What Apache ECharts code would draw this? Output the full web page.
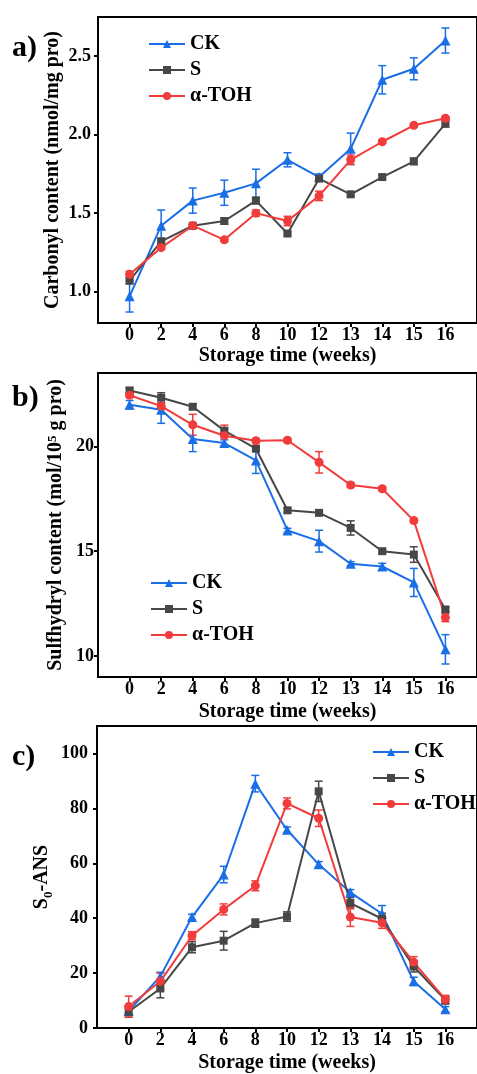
<!DOCTYPE html>
<html>
<head>
<meta charset="utf-8">
<script src="https://cdn.jsdelivr.net/npm/echarts@6/dist/echarts.min.js"></script>
<style>
html,body{margin:0;padding:0;background:#fff;}
#chart{width:477px;height:1074px;}
</style>
</head>
<body>
<div id="chart"></div>
<script>
// ---------- data ----------
const weeks = ['0','2','4','6','8','10','12','13','14','15','16'];
const seriesNames = ['CK','S','α-TOH'];

// a) Carbonyl content
const carbonylCK    = [0.97,1.42,1.58,1.63,1.69,1.84,1.73,1.91,2.35,2.42,2.60];
const carbonylCKErr = [0.10,0.10,0.08,0.08,0.09,0.045,0.02,0.10,0.09,0.07,0.08];
const carbonylS     = [1.07,1.32,1.42,1.45,1.58,1.37,1.72,1.62,1.73,1.83,2.07];
const carbonylSErr  = [0.02,0.02,0.01,0.02,0.02,0.01,0.01,0.01,0.01,0.02,0.02];
const carbonylT     = [1.11,1.28,1.42,1.33,1.50,1.45,1.61,1.84,1.955,2.06,2.105];
const carbonylTErr  = [0.02,0.01,0.01,0.01,0.02,0.03,0.03,0.03,0.01,0.01,0.01];
const carbonylTicks = [1.0,1.5,2.0,2.5];

// b) Sulfhydryl content
const sulfCK    = [21.99,21.75,20.35,20.16,19.33,15.99,15.48,14.40,14.27,13.51,10.32];
const sulfCKErr = [0.2,0.65,0.6,0.15,0.62,0.1,0.52,0.1,0.15,0.67,0.7];
const sulfS     = [22.67,22.32,21.89,20.75,19.89,16.95,16.83,16.11,15.00,14.84,12.22];
const sulfSErr  = [0.1,0.24,0.1,0.1,0.1,0.1,0.1,0.34,0.1,0.37,0.1];
const sulfT     = [22.44,21.92,21.03,20.51,20.27,20.29,19.24,18.16,17.98,16.46,11.84];
const sulfTErr  = [0.1,0.15,0.5,0.5,0.1,0.1,0.51,0.1,0.1,0.1,0.2];
const sulfTicks = [10,15,20];

// c) S0-ANS
const ansCK    = [6.2,18.8,40.4,55.9,89.0,72.2,59.6,49.4,41.6,17.0,6.8];
const ansCKErr = [1,1.5,1,3,3,1,1,1,3,1.5,1];
const ansS     = [5.9,14.4,29.4,31.8,38.2,40.6,86.2,45.5,39.8,22.4,10.2];
const ansSErr  = [2,3.4,2,3.4,1.5,1.7,3.7,2,2,2,1.5];
const ansT     = [7.8,17.0,33.6,43.2,51.8,81.8,76.4,40.4,38.3,24.0,10.4];
const ansTErr  = [3.8,3,1.5,2,1.8,2,3,3.4,2,2,1.5];
const ansTicks = [0,20,40,60,80,100];

// ---------- styling ----------
const FONT = "'Liberation Serif','Times New Roman',serif";
const colors = ['#1a6ee6','#474747','#f23c3c'];
const symbols = ['triangle','rect','circle'];
const symbolSizes = [10,8,9];

const panels = [
  {label:'a)', labelPos:[12,33], grid:{left:98,top:17,height:306},
   yMin:0.8, yMax:2.75, yTicks:carbonylTicks, yFmt:v=>v.toFixed(1),
   yName:'Carbonyl content (nmol/mg pro)', yGap:35, yLabelMargin:7,
   xGap:23, legend:{left:148,top:32},
   vals:[carbonylCK,carbonylS,carbonylT], errs:[carbonylCKErr,carbonylSErr,carbonylTErr]},
  {label:'b)', labelPos:[12,383], grid:{left:98,top:373,height:304},
   yMin:9, yMax:23.5, yTicks:sulfTicks, yFmt:v=>String(v),
   yName:'Sulfhydryl content (mol/10{sup|5} g pro)', yGap:32, yLabelMargin:4,
   xGap:25, legend:{left:150,top:571},
   vals:[sulfCK,sulfS,sulfT], errs:[sulfCKErr,sulfSErr,sulfTErr]},
  {label:'c)', labelPos:[12,742], grid:{left:97,top:726,height:306},
   yMin:0, yMax:110, yTicks:ansTicks, yFmt:v=>String(v),
   yName:'S{sub|0}-ANS', yGap:42, yLabelMargin:9,
   xGap:25, legend:{left:372,top:740},
   vals:[ansCK,ansS,ansT], errs:[ansCKErr,ansSErr,ansTErr]}
];

const xIdx = weeks.map((w,i)=>i);
const grid=[], xAxis=[], yAxis=[], series=[], legend=[], graphic=[];

panels.forEach((p,k)=>{
  grid.push({left:p.grid.left, top:p.grid.top, height:p.grid.height, width:479-p.grid.left,
    show:true, borderColor:'#000', borderWidth:2, backgroundColor:'transparent'});
  xAxis.push({type:'value', gridIndex:k, min:-1, max:11,
    name:'Storage time (weeks)', nameLocation:'middle', nameGap:p.xGap, nameMoveOverlap:false,
    nameTextStyle:{fontFamily:FONT,fontWeight:'bold',fontSize:20,color:'#000'},
    axisLine:{show:true,onZero:false,lineStyle:{color:'#000',width:2}},
    axisTick:{show:true,inside:false,length:4,customValues:xIdx,lineStyle:{color:'#000',width:2}},
    axisLabel:{customValues:xIdx,margin:3,formatter:v=>weeks[v],
      fontFamily:FONT,fontWeight:'bold',fontSize:18,color:'#000'},
    splitLine:{show:false}});
  yAxis.push({type:'value', gridIndex:k, min:p.yMin, max:p.yMax,
    name:p.yName, nameLocation:'middle', nameGap:p.yGap, nameRotate:90, nameMoveOverlap:false,
    nameTextStyle:{fontFamily:FONT,fontWeight:'bold',fontSize:20,color:'#000',
      rich:{
        sup:{fontFamily:FONT,fontWeight:'bold',fontSize:13,color:'#000',verticalAlign:'top',lineHeight:20},
        sub:{fontFamily:FONT,fontWeight:'bold',fontSize:13,color:'#000',verticalAlign:'bottom',lineHeight:26}
      }},
    axisLine:{show:true,onZero:false,lineStyle:{color:'#000',width:2}},
    axisTick:{show:true,inside:false,length:4,customValues:p.yTicks,lineStyle:{color:'#000',width:2}},
    axisLabel:{customValues:p.yTicks,margin:p.yLabelMargin,formatter:p.yFmt,
      fontFamily:FONT,fontWeight:'bold',fontSize:18,color:'#000'},
    splitLine:{show:false}});
  legend.push({left:p.legend.left, top:p.legend.top+2, orient:'vertical', padding:0,
    data:seriesNames, itemWidth:36, itemHeight:10, itemGap:6,
    textStyle:{fontFamily:FONT,fontWeight:'bold',fontSize:20,color:'#000',lineHeight:20}});
  graphic.push({type:'text', left:p.labelPos[0], top:p.labelPos[1],
    style:{text:p.label, fontFamily:FONT, fontWeight:'bold', fontSize:30, fill:'#000'}});

  seriesNames.forEach((name,s)=>{
    const vals=p.vals[s], errs=p.errs[s], col=colors[s];
    series.push({type:'custom', name:name+' error', xAxisIndex:k, yAxisIndex:k,
      itemStyle:{color:col}, z:3, silent:true,
      data: vals.map((v,i)=>[i, v-errs[i], v+errs[i]]),
      encode:{x:0,y:[1,2]},
      renderItem:(params,api)=>{
        const x=api.value(0);
        const a=api.coord([x,api.value(1)]), b=api.coord([x,api.value(2)]);
        const w=4, st={stroke:col,lineWidth:1.5};
        return {type:'group',children:[
          {type:'line',shape:{x1:a[0],y1:a[1],x2:b[0],y2:b[1]},style:st},
          {type:'line',shape:{x1:a[0]-w,y1:a[1],x2:a[0]+w,y2:a[1]},style:st},
          {type:'line',shape:{x1:b[0]-w,y1:b[1],x2:b[0]+w,y2:b[1]},style:st}
        ]};
      }});
    series.push({type:'line', name:name, xAxisIndex:k, yAxisIndex:k,
      data: vals.map((v,i)=>[i,v]),
      symbol:symbols[s], symbolSize:symbolSizes[s], showSymbol:true, z:4,
      itemStyle:{color:col}, lineStyle:{color:col,width:2}});
  });
});

const chart = echarts.init(document.getElementById('chart'), null, {renderer:'canvas'});
chart.setOption({animation:false, backgroundColor:'#fff', grid, xAxis, yAxis, series, legend, graphic});
</script>
</body>
</html>
